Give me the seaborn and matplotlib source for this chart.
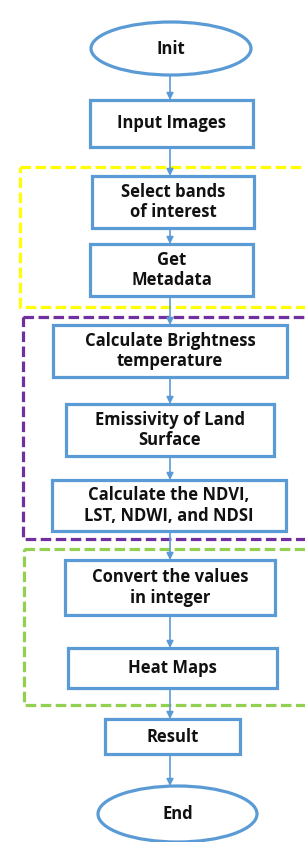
import matplotlib
matplotlib.use("Agg")

import matplotlib.pyplot as plt
import seaborn as sns
from matplotlib.patches import Ellipse, Rectangle

sns.set_theme(style="white")
plt.rcParams["font.family"] = ["Open Sans", "DejaVu Sans"]

# flowchart nodes (pixel coords, y grows downward)
labels = ["Init", "Input Images", "Select bands\nof interest", "Get\nMetadata",
          "Calculate Brightness\ntemperature", "Emissivity of Land\nSurface",
          "Calculate the NDVI,\nLST, NDWI, and NDSI", "Convert the values\nin integer",
          "Heat Maps", "Result", "End"]
kinds = ["oval", "box", "box", "box", "box", "box", "box", "box", "box", "box", "oval"]
x_left = [91, 90, 92, 90, 53, 66, 52, 65, 68, 105, 98]
x_right = [251, 253, 254, 253, 287, 274, 286, 275, 277, 240, 257]
y_top = [22, 100, 176, 244, 325, 404, 480, 560, 648, 719, 786]
y_bottom = [75, 147, 228, 296, 377, 456, 531, 615, 688, 754, 842]

# dashed groups
group_left = [20, 23, 24]
group_top = [167, 317, 549]
group_bottom = [307, 539, 705]
group_colors = ["#FFFF00", "#7030A0", "#92D050"]

blue = "#5B9BD5"
arrow_x = 170

fig = plt.figure(figsize=(3.05, 8.42), dpi=100)
ax = fig.add_axes([0, 0, 1, 1])
ax.set_xlim(0, 305)
ax.set_ylim(842, 0)
ax.axis("off")

for gl, gt, gb, gc in zip(group_left, group_top, group_bottom, group_colors):
    ax.add_patch(Rectangle((gl, gt), 310 - gl, gb - gt, fill=False,
                           edgecolor=gc, lw=2.3, linestyle=(0, (3.3, 1.4)), zorder=1))

for i in range(len(labels) - 1):
    ax.annotate("", xy=(arrow_x, y_top[i + 1]), xytext=(arrow_x, y_bottom[i]),
                arrowprops=dict(arrowstyle="-|>", color=blue, lw=1.2,
                                mutation_scale=10, shrinkA=0, shrinkB=0),
                zorder=2)

for lab, k, xl, xr, yt, yb in zip(labels, kinds, x_left, x_right, y_top, y_bottom):
    cx, cy = (xl + xr) / 2, (yt + yb) / 2
    if k == "oval":
        ax.add_patch(Ellipse((cx, cy), xr - xl, yb - yt, facecolor="white",
                             edgecolor=blue, lw=2.3, zorder=3))
    else:
        ax.add_patch(Rectangle((xl, yt), xr - xl, yb - yt, facecolor="white",
                               edgecolor=blue, lw=2.3, zorder=3))
    ax.text(cx, cy, lab, ha="center", va="center", fontsize=12,
            fontweight="bold", color="#111111", linespacing=1.15, zorder=4)

fig.savefig("out.png", dpi=100)
plt.close(fig)
